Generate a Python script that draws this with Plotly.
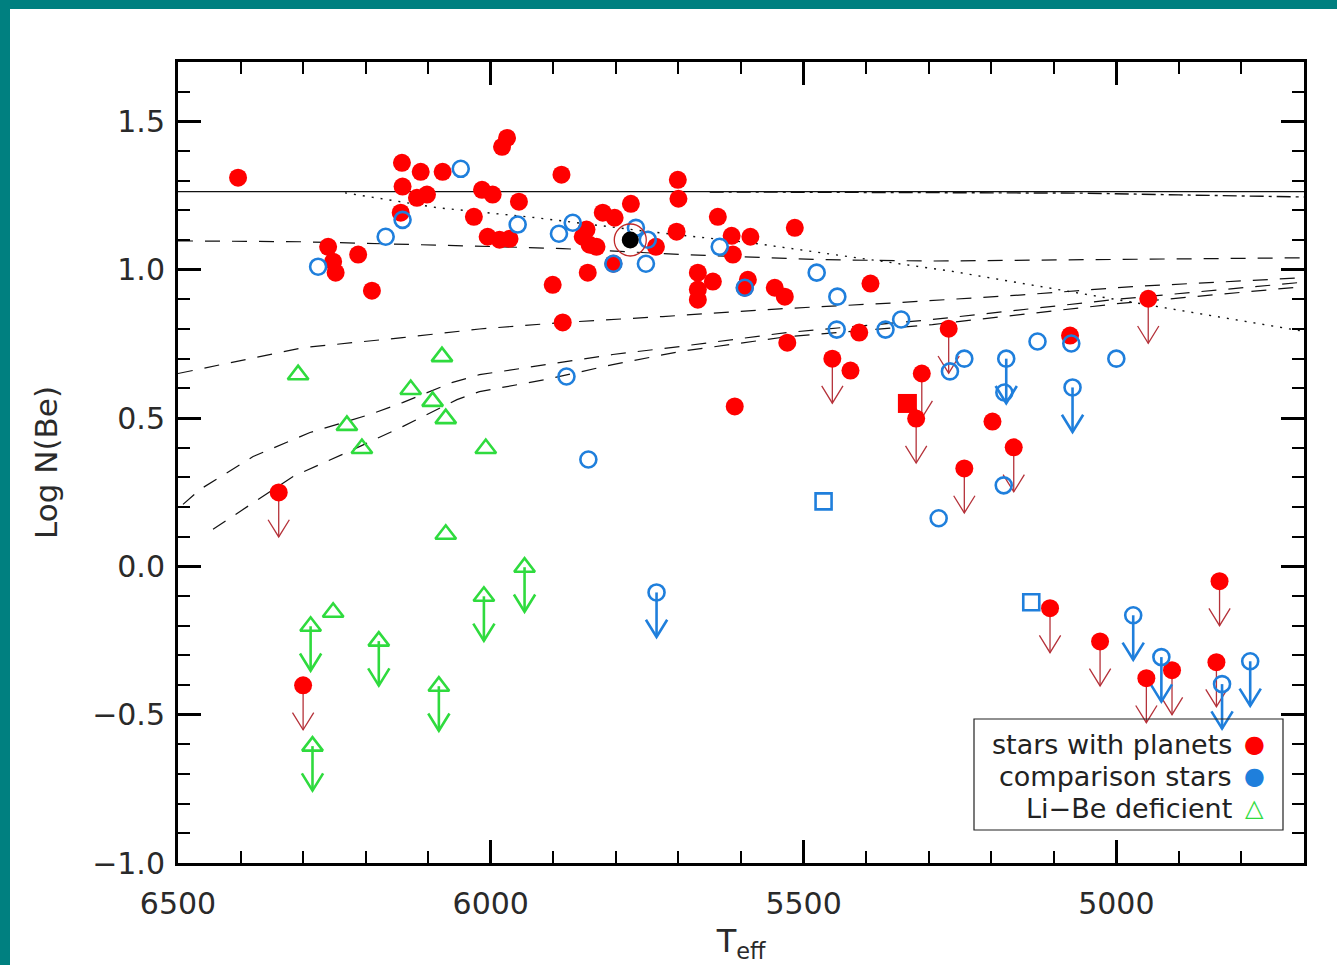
import plotly.graph_objects as go

# ---------------- data ----------------
# stars with planets: Be detections (red filled circles)
pl_T = [6404, 6142, 6112, 6077, 6141, 6118, 6102, 6144, 6027, 6014, 5997, 5955, 5982, 5974,
        5887, 6005, 5986, 5970, 5901, 5885, 6260, 6252, 6248, 6212, 6190, 5701, 5700, 5776,
        5821, 5802, 5847, 5853, 5842, 5831, 5845, 5703, 5736, 5804, 5637, 5615, 5585, 5613,
        5514, 5669, 5645, 5669, 5669, 5589, 5594, 5546, 5530, 5393, 5526, 5411, 5074, 5610,
        5425, 5198]
pl_N = [1.310, 1.360, 1.330, 1.330, 1.280, 1.242, 1.253, 1.192, 1.178, 1.269, 1.253, 1.229, 1.414, 1.444,
        1.320, 1.111, 1.101, 1.104, 0.949, 0.822, 1.077, 1.027, 0.990, 1.051, 0.929, 1.303, 1.239, 1.222,
        1.192, 1.175, 1.135, 1.111, 1.084, 1.077, 0.990, 1.128, 1.077, 1.020, 1.178, 1.114, 1.111, 1.051,
        1.141, 0.990, 0.960, 0.933, 0.899, 0.966, 0.939, 0.939, 0.909, 0.953, 0.754, 0.788, 0.778, 0.539,
        0.660, 0.488]
# stars with planets: upper limits
pl_lim_T = [6339, 6300, 5268, 4949, 5454, 5311, 5320, 5164, 5243, 5106, 5026, 4911, 4952, 4835, 4840]
pl_lim_N = [0.249, -0.401, 0.801, 0.902, 0.700, 0.650, 0.498, 0.401, 0.330, -0.141, -0.253, -0.350,
            -0.377, -0.050, -0.323]
# star with planet, square symbol
pl_sq_T = [5334]
pl_sq_N = [0.549]

# comparison stars: detections (blue open circles)
cmp_T = [6048, 6141, 6168, 6276, 5957, 5891, 5869, 5768, 5749, 5804, 5752, 5634, 5594, 5479,
         5446, 5447, 5369, 5344, 5266, 5243, 5179, 5126, 5072, 5000, 5180, 5284, 5879, 5844]
cmp_N = [1.340, 1.168, 1.111, 1.010, 1.152, 1.121, 1.158, 1.141, 1.101, 1.020, 1.020, 1.077, 0.939, 0.990,
         0.909, 0.798, 0.798, 0.832, 0.657, 0.700, 0.586, 0.758, 0.751, 0.700, 0.273, 0.162, 0.640, 0.360]
# comparison stars: upper limits
cmp_lim_T = [5176, 5070, 5735, 4973, 4928, 4831, 4786]
cmp_lim_N = [0.700, 0.603, -0.088, -0.165, -0.306, -0.397, -0.320]
# comparison stars, square symbol
cmp_sq_T = [5468, 5136]
cmp_sq_N = [0.219, -0.121]

# Li-Be deficient stars (green open triangles)
lib_T = [6308, 6078, 6128, 6093, 6072, 6230, 6206, 6008, 6072, 6252]
lib_N = [0.646, 0.707, 0.596, 0.556, 0.498, 0.475, 0.397, 0.397, 0.108, -0.155]
lib_lim_T = [6288, 6285, 6179, 6083, 6011, 5946]
lib_lim_N = [-0.202, -0.606, -0.252, -0.404, -0.101, -0.003]

# the Sun
sun_T = [5777]
sun_N = [1.10]

# model / reference curves
solid_T = [6500, 4700]
solid_N = [1.263, 1.263]
dashdot_T = [5650, 5300, 5050, 4900, 4700]
dashdot_N = [1.262, 1.261, 1.258, 1.252, 1.245]
dot_T = [6233, 6086, 5927, 5746, 5586, 5427, 5267, 5027, 4931, 4719, 4700]
dot_N = [1.259, 1.209, 1.175, 1.128, 1.091, 1.044, 0.996, 0.909, 0.875, 0.798, 0.792]
dashU_T = [6500, 6300, 5981, 5885, 5693, 5479, 5300, 5000, 4700]
dashU_N = [1.097, 1.094, 1.077, 1.071, 1.051, 1.034, 1.029, 1.034, 1.040]
dashM_T = [6500, 6300, 6141, 6018, 5885, 5725, 5538, 5347, 5150, 4974, 4700]
dashM_N = [0.650, 0.737, 0.771, 0.800, 0.822, 0.842, 0.868, 0.889, 0.915, 0.943, 0.973]
dashL1_T = [6492, 6465, 6380, 6289, 6193, 6141, 6061, 6018, 5911, 5805, 5698, 5591, 5527, 5294, 5000, 4700]
dashL1_N = [0.209, 0.259, 0.370, 0.451, 0.512, 0.552, 0.620, 0.646, 0.680, 0.714, 0.741, 0.771, 0.788,
            0.832, 0.900, 0.958]
dashL2_T = [6444, 6316, 6230, 6141, 6054, 6018, 5911, 5805, 5698, 5591, 5527, 5294, 5000, 4700]
dashL2_N = [0.125, 0.303, 0.384, 0.471, 0.562, 0.589, 0.630, 0.680, 0.724, 0.754, 0.774, 0.815, 0.885, 0.943]

x_ticks = [6500, 6000, 5500, 5000]
y_ticks = [-1.0, -0.5, 0.0, 0.5, 1.0, 1.5]
legend_labels = ["stars with planets", "comparison stars", "Li\u2212Be deficient"]
x_title = "T<sub>eff</sub>"
y_title = "Log N(Be)"

# upper-limit arrow geometry (data units)
ARROW_LEN = 0.15    # shaft length, dex
HEAD_DT = 17.0      # half width of the V head, K
HEAD_DN = 0.058     # height of the V head, dex

RED = "#ff0000"
RED_ARROW = "#b5323a"
BLUE = "#1f7fdc"
GREEN = "#2fdb3e"
TEAL = "#008080"
FONT = "DejaVu Sans"

fig = go.Figure()

# ---- curves ----
fig.add_trace(go.Scatter(x=solid_T, y=solid_N, mode="lines",
                         line=dict(color="#111", width=1.2)))
fig.add_trace(go.Scatter(x=dashdot_T, y=dashdot_N, mode="lines",
                         line=dict(color="#111", width=1.4, dash="14px,5px,3px,5px")))
fig.add_trace(go.Scatter(x=dot_T, y=dot_N, mode="lines",
                         line=dict(color="#111", width=1.4, dash="2px,7px")))
for cx, cy in [(dashU_T, dashU_N), (dashM_T, dashM_N), (dashL1_T, dashL1_N), (dashL2_T, dashL2_N)]:
    fig.add_trace(go.Scatter(x=cx, y=cy, mode="lines",
                             line=dict(color="#111", width=1.2, dash="15px,12px")))


# ---- upper-limit arrows (shaft + open V head), built from the limit values ----
def arrow_paths(Ts, Ns):
    xs, ys = [], []
    for t, n in zip(Ts, Ns):
        tip = n - ARROW_LEN
        xs += [t, t, None, t - HEAD_DT, t, t + HEAD_DT, None]
        ys += [n, tip, None, tip + HEAD_DN, tip, tip + HEAD_DN, None]
    return xs, ys


for Ts, Ns, col, w in [(pl_lim_T, pl_lim_N, RED_ARROW, 1.3),
                       (cmp_lim_T, cmp_lim_N, BLUE, 2.6),
                       (lib_lim_T, lib_lim_N, GREEN, 2.6)]:
    ax_, ay_ = arrow_paths(Ts, Ns)
    fig.add_trace(go.Scatter(x=ax_, y=ay_, mode="lines", line=dict(color=col, width=w),
                             connectgaps=False))

# ---- points ----
fig.add_trace(go.Scatter(x=lib_T + lib_lim_T, y=lib_N + lib_lim_N, mode="markers",
                         marker=dict(symbol="triangle-up-open", size=18, color=GREEN,
                                     line=dict(width=2.6, color=GREEN))))
fig.add_trace(go.Scatter(x=pl_T + pl_lim_T, y=pl_N + pl_lim_N, mode="markers",
                         marker=dict(symbol="circle", size=18, color=RED,
                                     line=dict(width=0))))
fig.add_trace(go.Scatter(x=pl_sq_T, y=pl_sq_N, mode="markers",
                         marker=dict(symbol="square", size=19, color=RED, line=dict(width=0))))
fig.add_trace(go.Scatter(x=cmp_T + cmp_lim_T, y=cmp_N + cmp_lim_N, mode="markers",
                         marker=dict(symbol="circle-open", size=16, color=BLUE,
                                     line=dict(width=2.6, color=BLUE))))
fig.add_trace(go.Scatter(x=cmp_sq_T, y=cmp_sq_N, mode="markers",
                         marker=dict(symbol="square-open", size=16, color=BLUE,
                                     line=dict(width=2.6, color=BLUE))))
fig.add_trace(go.Scatter(x=sun_T, y=sun_N, mode="markers",
                         marker=dict(symbol="circle-open", size=32, color="#c02a2a",
                                     line=dict(width=1.3, color="#c02a2a"))))
fig.add_trace(go.Scatter(x=sun_T, y=sun_N, mode="markers",
                         marker=dict(symbol="circle", size=17, color="black", line=dict(width=0))))

# ---- legend (drawn as a box with right-aligned text and symbols on the right) ----
PW, PH = 1126.0, 801.0
def px(x):
    return (x - 178) / PW
def py(y):
    return (863 - y) / PH

annotations = []
legend_syms = ["\u25cf", "\u25cf", "\u25b3"]
legend_cols = [RED, BLUE, GREEN]
legend_y = [744, 776, 808]
for lab, sym, col, yy in zip(legend_labels, legend_syms, legend_cols, legend_y):
    annotations.append(dict(x=px(1234), y=py(yy), xref="paper", yref="paper",
                            text=lab, showarrow=False, xanchor="right", yanchor="middle",
                            font=dict(family=FONT, size=27, color="#222")))
    annotations.append(dict(x=px(1254), y=py(yy), xref="paper", yref="paper",
                            text=sym, showarrow=False, xanchor="center", yanchor="middle",
                            font=dict(family=FONT, size=24, color=col)))

shapes = [
    dict(type="rect", xref="paper", yref="paper", x0=px(974), x1=px(1283), y0=py(830), y1=py(719),
         line=dict(color="#222", width=1.2), fillcolor="rgba(0,0,0,0)"),
    # teal frame of the page
    dict(type="rect", xref="paper", yref="paper", x0=px(-20), x1=px(1400), y0=py(9), y1=py(-20),
         line=dict(width=0), fillcolor=TEAL),
    dict(type="rect", xref="paper", yref="paper", x0=px(-20), x1=px(10), y0=py(1000), y1=py(-20),
         line=dict(width=0), fillcolor=TEAL),
]

axis_common = dict(
    showgrid=False, zeroline=False, showline=True, linecolor="black", linewidth=3,
    mirror="ticks", ticks="inside", tickcolor="black", tickwidth=3, ticklen=23,
    tickfont=dict(family=FONT, size=30, color="#2a2a2a"),
)

fig.update_layout(
    width=1337, height=965,
    margin=dict(l=178, r=33, t=62, b=102),
    paper_bgcolor="white", plot_bgcolor="white",
    showlegend=False,
    annotations=annotations,
    shapes=shapes,
    xaxis=dict(range=[6500, 4700], tickmode="array", tickvals=x_ticks,
               ticktext=[str(v) for v in x_ticks], ticklabelstandoff=12,
               minor=dict(dtick=100, tick0=5000, ticks="inside", ticklen=12, tickwidth=2,
                          tickcolor="black"),
               title=dict(text=x_title, font=dict(family=FONT, size=32, color="#2a2a2a"),
                          standoff=10),
               **axis_common),
    yaxis=dict(range=[-1.0, 1.7], tickmode="array", tickvals=y_ticks,
               ticktext=[f"{v:.1f}".replace("-", "\u2212") for v in y_ticks],
               ticklabelstandoff=4,
               minor=dict(dtick=0.1, tick0=0, ticks="inside", ticklen=12, tickwidth=2,
                          tickcolor="black"),
               title=dict(text=y_title, font=dict(family=FONT, size=31, color="#2a2a2a"),
                          standoff=26),
               **axis_common),
)

fig.write_html("out.html", config={"displayModeBar": False},
               post_script="document.body.style.margin='0';")
